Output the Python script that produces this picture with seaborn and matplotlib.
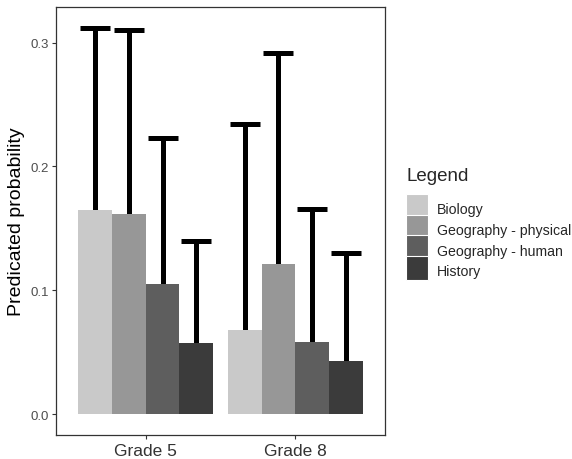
import pandas as pd
import matplotlib.pyplot as plt
import matplotlib.patches as mpatches
from matplotlib.legend_handler import HandlerPatch
import seaborn as sns

grades = ["Grade 5", "Grade 8"]
subjects = ["Biology", "Geography - physical", "Geography - human", "History"]
# predicted probability per subject, one value per grade
prob = {
    "Biology": [0.165, 0.068],
    "Geography - physical": [0.162, 0.121],
    "Geography - human": [0.105, 0.058],
    "History": [0.057, 0.043],
}
upper = {
    "Biology": [0.312, 0.234],
    "Geography - physical": [0.310, 0.292],
    "Geography - human": [0.223, 0.166],
    "History": [0.140, 0.130],
}
colors = ["#c9c9c9", "#979797", "#5e5e5e", "#3b3b3b"]

rows = []
for s in subjects:
    for g, p, u in zip(grades, prob[s], upper[s]):
        rows.append({"grade": g, "subject": s, "prob": p, "upper": u})
df = pd.DataFrame(rows)

sns.set_style("white")
plt.rcParams["font.family"] = ["Liberation Sans", "DejaVu Sans"]

fig = plt.figure(figsize=(5.72, 4.6), dpi=100)
ax = fig.add_axes([0.098, 0.052, 0.575, 0.931])

sns.barplot(data=df, x="grade", y="prob", hue="subject", order=grades,
            hue_order=subjects, palette=colors, width=0.9, saturation=1,
            errorbar=None, linewidth=0, ax=ax, zorder=3)

# error bars: only the part above the bar shows
for cont, s in zip(ax.containers, subjects):
    for bar, u in zip(cont, upper[s]):
        cx = bar.get_x() + bar.get_width() / 2
        top = bar.get_height()
        ax.plot([cx, cx], [top, u], color="black", lw=3.6, solid_capstyle="butt", zorder=2)
        ax.plot([cx - 0.1, cx + 0.1], [u, u], color="black", lw=3.6, solid_capstyle="butt", zorder=2)

ax.set_xlim(-0.6, 1.6)
ax.set_ylim(-0.017, 0.329)
ax.set_yticks([0.0, 0.1, 0.2, 0.3])
ax.set_yticklabels(["0.0", "0.1", "0.2", "0.3"])
ax.set_xlabel("")
ax.set_ylabel("Predicated probability", fontsize=14, color="black", labelpad=4)
ax.tick_params(axis="y", labelsize=9.5, labelcolor="#4d4d4d", length=3, width=0.8,
               color="#333333", left=True, pad=2)
ax.tick_params(axis="x", labelsize=12.5, labelcolor="#333333", length=3, width=0.8,
               color="#333333", bottom=True, pad=3)
for sp in ax.spines.values():
    sp.set_color("#333333")
    sp.set_linewidth(0.9)


# legend keys fill the whole handle box, like ggplot keys
def full_key(legend, orig_handle, xdescent, ydescent, width, height, fontsize):
    return mpatches.Rectangle((-xdescent, -ydescent), width, height + ydescent)


leg = ax.legend(title="Legend", loc="upper left", bbox_to_anchor=(1.047, 0.64),
                frameon=False, fontsize=10.2, title_fontsize=13.5, handlelength=1.55,
                handleheight=1.72, handletextpad=0.63, labelspacing=0.1,
                borderaxespad=0,
                handler_map={mpatches.Rectangle: HandlerPatch(patch_func=full_key)})
leg._legend_box.align = "left"
leg._legend_box.sep = 11
for p in leg.get_patches():
    p.set_edgecolor("white")
    p.set_linewidth(0.8)

fig.savefig("out.png", dpi=100)
